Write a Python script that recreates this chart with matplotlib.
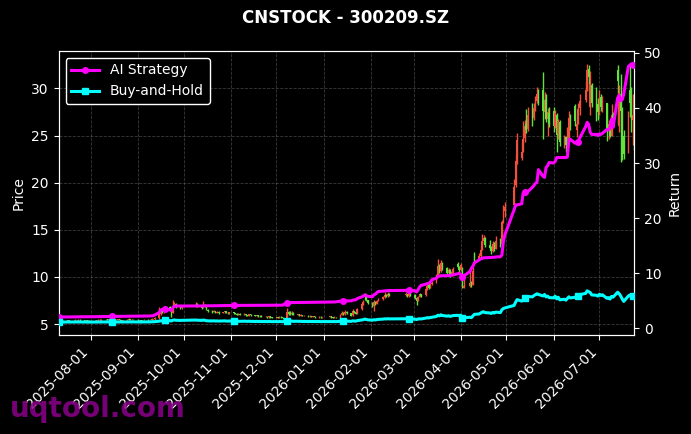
import numpy as np
import pandas as pd
import matplotlib
matplotlib.use("Agg")
import matplotlib.pyplot as plt
import matplotlib.dates as mdates

# ---------------- data ----------------
title = "CNSTOCK - 300209.SZ"
holidays = ["2025-10-01", "2025-10-02", "2025-10-03", "2025-10-06", "2025-10-07", "2025-10-08",
            "2026-01-01", "2026-01-02",
            "2026-02-16", "2026-02-17", "2026-02-18", "2026-02-19", "2026-02-20", "2026-02-23",
            "2026-04-06", "2026-05-01", "2026-05-04", "2026-05-05", "2026-06-19"]
start_date = "2025-07-11"
end_date = "2026-07-24"

open_ = [
    5.27,
    5.30, 5.33, 5.28, 5.34, 5.39,
    5.33, 5.36, 5.43, 5.38, 5.46,
    5.41, 5.36, 5.42, 5.36, 5.29,
    5.33, 5.36, 5.40, 5.45, 5.37,
    5.42, 5.48, 5.42, 5.51, 5.45,
    5.40, 5.44, 5.49, 5.40, 5.35,
    5.39, 5.46, 5.53, 5.47, 5.42,
    5.47, 5.42, 5.38, 5.34, 5.40,
    5.45, 5.40, 5.47, 5.53, 5.48,
    5.62, 6.10, 6.45, 6.28, 6.56,
    6.80, 6.55, 6.22, 6.98, 7.12,
    6.86, 6.68,
    6.85, 7.08,
    6.92, 6.74, 7.03, 6.86, 6.48,
    6.36, 6.28, 6.38, 6.22, 6.30,
    6.18, 6.24, 6.36, 6.20, 6.12,
    6.25, 6.15, 6.07, 6.00, 6.10,
    5.98, 6.04, 5.95, 5.90, 6.02,
    5.92, 5.85, 5.93, 5.80, 5.88,
    5.75, 5.78, 5.70, 5.82, 5.74,
    5.68, 5.72, 5.65, 5.78, 5.70,
    5.66, 6.28, 6.10, 6.04, 6.20,
    5.98, 6.02, 5.90, 5.95, 5.85,
    5.88, 5.80, 5.86, 5.75, 5.82,
    5.72, 5.78, 5.70,
    5.74, 5.80, 5.72, 5.68, 5.76,
    5.70, 5.96, 6.22, 6.04, 6.30,
    6.15, 5.92, 6.36, 6.25, 6.12,
    6.58, 7.12, 8.10, 7.88, 7.55,
    7.18, 6.90, 7.30, 7.15, 7.45,
    7.62, 7.86, 8.12, 7.95, 8.22,
    8.05, 8.15, 7.95, 8.25,
    8.10, 7.80, 7.45, 7.92, 8.15,
    8.05, 8.72, 9.10, 8.85, 9.20,
    9.45, 10.15, 11.30, 10.60, 11.50,
    10.90, 10.40, 10.75, 10.20, 10.55,
    11.40, 11.10, 10.70, 10.90, 8.85,
    9.05, 9.40, 9.15, 12.50,
    11.90, 12.25, 12.95, 13.85, 14.10,
    13.40, 13.10, 12.70, 13.50, 13.00,
    13.80, 13.45, 15.90, 16.95,
    17.60, 19.70, 22.40,
    22.60, 23.30, 24.70, 26.20, 25.70,
    27.30, 26.90, 28.00, 28.70, 29.50,
    29.80, 27.50, 28.90, 26.80, 27.40,
    27.60, 26.00, 27.20, 25.20, 26.40,
    24.30, 24.80, 24.00, 24.40, 27.00,
    28.10, 25.60, 26.30, 27.90,
    28.80, 30.00, 32.10, 28.00, 30.40,
    28.60, 28.30, 27.40, 29.10, 27.90,
    28.40, 25.50, 26.20, 25.00, 27.30,
    32.00, 26.00, 29.40, 27.50, 25.00,
    23.20, 29.80, 28.30, 26.70, 27.30]

high = [
    5.36,
    5.38, 5.36, 5.40, 5.44, 5.42,
    5.41, 5.48, 5.46, 5.52, 5.49,
    5.44, 5.47, 5.45, 5.39, 5.38,
    5.41, 5.46, 5.50, 5.48, 5.48,
    5.55, 5.51, 5.58, 5.54, 5.48,
    5.50, 5.55, 5.52, 5.44, 5.45,
    5.52, 5.60, 5.56, 5.50, 5.52,
    5.50, 5.45, 5.41, 5.46, 5.50,
    5.48, 5.53, 5.60, 5.57, 5.70,
    6.80, 6.65, 6.70, 6.75, 6.95,
    6.90, 6.62, 7.50, 7.35, 7.25,
    7.00, 6.95,
    7.30, 7.20,
    6.98, 7.40, 7.10, 6.90, 6.55,
    6.45, 6.48, 6.42, 6.36, 6.33,
    6.30, 6.42, 6.40, 6.24, 6.30,
    6.28, 6.20, 6.12, 6.18, 6.13,
    6.12, 6.08, 6.00, 6.08, 6.05,
    5.96, 6.00, 5.96, 5.95, 5.91,
    5.84, 5.81, 5.88, 5.85, 5.77,
    5.78, 5.75, 5.84, 5.81, 5.74,
    6.70, 6.40, 6.35, 6.38, 6.24,
    6.10, 6.06, 6.02, 5.98, 5.94,
    5.91, 5.92, 5.89, 5.88, 5.85,
    5.84, 5.81, 5.79,
    5.88, 5.83, 5.75, 5.82, 5.79,
    6.05, 6.40, 6.28, 6.50, 6.36,
    6.18, 6.55, 6.42, 6.30, 6.70,
    7.30, 7.55, 8.30, 7.95, 7.60,
    7.30, 7.50, 7.40, 7.60, 7.75,
    8.00, 8.35, 8.20, 8.40, 8.28,
    8.40, 8.22, 8.38, 8.30,
    8.15, 7.85, 8.00, 8.30, 8.20,
    8.80, 9.20, 9.30, 9.35, 9.60,
    10.30, 11.90, 11.40, 11.80, 11.60,
    11.00, 10.95, 10.85, 10.70, 11.00,
    11.60, 11.20, 11.50, 11.00, 10.20,
    10.70, 9.60, 11.00, 12.60,
    12.50, 13.30, 14.50, 14.40, 14.20,
    13.90, 13.30, 13.80, 13.70, 14.30,
    14.10, 16.00, 17.60, 17.90,
    20.40, 23.00, 25.30,
    24.30, 26.50, 26.60, 27.80, 28.00,
    28.50, 28.40, 29.20, 30.10, 29.90,
    31.70, 29.60, 29.40, 27.90, 28.00,
    28.00, 27.70, 27.40, 26.80, 26.60,
    25.10, 25.00, 25.90, 27.60, 27.30,
    28.30, 26.60, 28.40, 29.40,
    30.80, 32.60, 32.50, 31.80, 30.60,
    30.10, 29.00, 29.80, 29.40, 29.20,
    28.50, 26.60, 26.50, 28.30, 27.50,
    32.50, 30.40, 31.50, 28.00, 25.60,
    27.60, 32.60, 30.10, 29.40, 28.30]

low = [
    5.22,
    5.25, 5.20, 5.26, 5.31, 5.28,
    5.30, 5.34, 5.33, 5.36, 5.35,
    5.31, 5.34, 5.30, 5.24, 5.25,
    5.29, 5.33, 5.37, 5.33, 5.35,
    5.40, 5.38, 5.41, 5.40, 5.36,
    5.38, 5.42, 5.36, 5.31, 5.33,
    5.37, 5.44, 5.42, 5.38, 5.40,
    5.37, 5.33, 5.29, 5.32, 5.38,
    5.36, 5.38, 5.45, 5.43, 5.45,
    5.58, 6.00, 6.20, 6.22, 6.48,
    6.50, 5.72, 6.15, 6.80, 6.75,
    6.60, 6.62,
    6.78, 6.82,
    6.62, 6.70, 6.80, 6.45, 6.28,
    6.20, 6.24, 6.15, 6.18, 6.10,
    6.14, 6.20, 6.15, 6.05, 6.08,
    6.10, 6.02, 5.94, 5.96, 5.92,
    5.94, 5.90, 5.84, 5.87, 5.88,
    5.80, 5.82, 5.75, 5.77, 5.70,
    5.71, 5.64, 5.67, 5.68, 5.62,
    5.64, 5.59, 5.62, 5.64, 5.58,
    5.62, 6.00, 5.98, 6.00, 5.92,
    5.92, 5.84, 5.86, 5.80, 5.80,
    5.74, 5.77, 5.70, 5.72, 5.66,
    5.69, 5.64, 5.66,
    5.71, 5.66, 5.62, 5.65, 5.64,
    5.66, 5.92, 5.98, 6.00, 6.08,
    5.82, 5.88, 6.18, 6.02, 6.08,
    6.50, 7.05, 7.60, 7.45, 7.10,
    6.80, 6.40, 7.05, 7.10, 7.40,
    7.55, 7.80, 7.85, 7.90, 7.98,
    8.00, 7.85, 7.90, 8.02,
    7.70, 7.00, 7.40, 7.88, 7.90,
    8.00, 8.65, 8.75, 8.80, 9.10,
    9.40, 10.05, 10.40, 10.50, 10.70,
    10.20, 10.30, 10.00, 10.10, 10.45,
    10.90, 10.50, 10.60, 8.85, 8.80,
    8.90, 8.95, 9.10, 11.50,
    11.80, 12.15, 12.90, 13.50, 13.20,
    12.90, 12.40, 12.60, 12.80, 12.95,
    13.20, 13.40, 15.70, 16.40,
    17.50, 19.50, 22.00,
    22.40, 23.20, 24.30, 25.30, 25.50,
    26.00, 26.70, 27.60, 28.40, 28.20,
    24.60, 26.80, 26.40, 24.90, 25.90,
    25.40, 25.80, 23.20, 24.60, 23.90,
    23.70, 23.30, 23.90, 24.30, 25.60,
    26.00, 24.80, 26.20, 27.20,
    28.60, 29.70, 29.70, 27.20, 28.00,
    26.50, 26.70, 27.20, 27.60, 27.50,
    24.40, 24.60, 24.80, 24.90, 25.90,
    26.20, 25.40, 22.20, 22.40, 22.50,
    23.10, 27.00, 25.40, 24.00, 23.50]

close = [
    5.30,
    5.32, 5.28, 5.35, 5.38, 5.33,
    5.36, 5.42, 5.39, 5.45, 5.40,
    5.37, 5.41, 5.35, 5.30, 5.33,
    5.36, 5.40, 5.44, 5.38, 5.42,
    5.47, 5.43, 5.50, 5.45, 5.41,
    5.44, 5.48, 5.40, 5.36, 5.39,
    5.45, 5.52, 5.47, 5.43, 5.46,
    5.42, 5.38, 5.35, 5.40, 5.44,
    5.41, 5.47, 5.52, 5.49, 5.63,
    6.05, 6.42, 6.30, 6.55, 6.78,
    6.60, 6.25, 6.95, 7.10, 6.85,
    6.70, 6.82,
    7.05, 6.90,
    6.75, 7.02, 6.88, 6.50, 6.35,
    6.28, 6.40, 6.22, 6.30, 6.18,
    6.25, 6.35, 6.20, 6.12, 6.24,
    6.15, 6.08, 6.00, 6.10, 5.98,
    6.05, 5.95, 5.90, 6.02, 5.92,
    5.85, 5.93, 5.80, 5.88, 5.75,
    5.78, 5.70, 5.82, 5.74, 5.68,
    5.72, 5.65, 5.78, 5.70, 5.66,
    6.25, 6.10, 6.05, 6.20, 5.98,
    6.02, 5.90, 5.95, 5.85, 5.88,
    5.80, 5.86, 5.75, 5.82, 5.72,
    5.78, 5.70, 5.74,
    5.80, 5.72, 5.68, 5.76, 5.70,
    5.95, 6.20, 6.05, 6.30, 6.15,
    5.90, 6.35, 6.25, 6.10, 6.55,
    7.10, 7.35, 7.90, 7.55, 7.20,
    6.95, 7.30, 7.15, 7.45, 7.60,
    7.85, 8.10, 7.95, 8.20, 8.05,
    8.15, 7.95, 8.25, 8.10,
    7.80, 7.45, 7.90, 8.15, 8.00,
    8.70, 9.05, 8.85, 9.20, 9.40,
    10.10, 11.20, 10.60, 11.50, 10.90,
    10.40, 10.75, 10.20, 10.55, 10.85,
    11.10, 10.70, 11.30, 9.20, 9.00,
    9.40, 9.10, 10.60, 11.90,
    12.20, 12.90, 13.80, 14.10, 13.40,
    13.10, 12.70, 13.50, 13.00, 13.80,
    13.40, 15.80, 16.90, 17.40,
    19.50, 22.30, 24.50,
    23.20, 24.60, 26.00, 25.60, 27.20,
    26.80, 27.90, 28.60, 29.40, 28.90,
    27.60, 28.80, 26.80, 27.50, 26.20,
    26.00, 27.40, 25.10, 26.50, 24.30,
    24.80, 24.00, 25.50, 26.90, 25.90,
    26.50, 26.20, 27.80, 28.70,
    29.80, 32.00, 31.20, 30.50, 28.50,
    28.20, 27.50, 29.00, 28.00, 28.60,
    25.50, 26.20, 25.00, 27.20, 26.60,
    30.80, 29.50, 27.60, 25.00, 23.00,
    27.50, 28.40, 26.80, 27.20, 25.80]

ai_strategy = [
    2.05,
    2.05, 2.05, 2.06, 2.07, 2.07,
    2.07, 2.08, 2.08, 2.09, 2.09,
    2.09, 2.10, 2.10, 2.10, 2.11,
    2.11, 2.12, 2.13, 2.13, 2.13,
    2.14, 2.14, 2.15, 2.15, 2.15,
    2.15, 2.16, 2.16, 2.16, 2.17,
    2.18, 2.19, 2.19, 2.19, 2.20,
    2.20, 2.20, 2.20, 2.21, 2.22,
    2.22, 2.24, 2.27, 2.27, 2.40,
    2.85, 3.30, 3.40, 3.50, 3.45,
    3.35, 3.25, 3.75, 4.00, 4.05,
    4.05, 4.05,
    4.06, 4.06,
    4.06, 4.08, 4.08, 4.08, 4.08,
    4.09, 4.10, 4.10, 4.10, 4.11,
    4.12, 4.13, 4.13, 4.13, 4.14,
    4.15, 4.15, 4.15, 4.16, 4.16,
    4.16, 4.16, 4.16, 4.17, 4.17,
    4.17, 4.18, 4.18, 4.18, 4.18,
    4.18, 4.18, 4.19, 4.19, 4.19,
    4.19, 4.20, 4.20, 4.20, 4.20,
    4.65, 4.65, 4.66, 4.68, 4.68,
    4.68, 4.69, 4.70, 4.70, 4.70,
    4.71, 4.72, 4.72, 4.72, 4.73,
    4.74, 4.74, 4.75,
    4.76, 4.77, 4.77, 4.78, 4.80,
    4.95, 4.98, 4.98, 5.00, 5.00,
    4.98, 5.10, 5.15, 5.15, 5.40,
    5.70, 5.85, 6.05, 5.95, 5.80,
    5.75, 6.10, 6.20, 6.50, 6.70,
    6.75, 6.80, 6.80, 6.85, 6.85,
    6.88, 6.88, 6.90, 6.90,
    6.80, 6.60, 7.00, 7.50, 7.80,
    8.00, 8.10, 8.15, 8.40, 8.80,
    9.10, 9.40, 9.50, 9.55, 9.55,
    9.55, 9.60, 9.60, 9.65, 9.70,
    9.90, 10.00, 9.80, 9.40, 9.50,
    10.30, 10.90, 11.30, 11.90,
    12.40, 12.60, 12.70, 12.80, 12.80,
    12.85, 12.85, 12.90, 12.90, 12.95,
    13.00, 13.30, 15.80, 17.00,
    21.50, 22.40, 22.40,
    22.60, 24.60, 24.70, 24.90, 24.80,
    25.60, 25.90, 26.30, 26.50, 28.80,
    27.60, 27.40, 29.20, 29.50, 30.10,
    30.00, 30.30, 31.00, 31.00, 31.00,
    31.00, 31.00, 31.10, 34.30, 34.30,
    33.60, 33.80, 33.90, 34.50,
    36.60, 37.40, 37.00, 35.60, 35.20,
    35.20, 35.00, 35.30, 35.20, 35.40,
    36.10, 36.00, 36.30, 38.00, 36.50,
    41.80, 42.30, 41.30, 41.50, 42.50,
    47.50, 47.80, 48.00, 47.80, 47.40]

buy_and_hold = [
    1.13,
    1.13, 1.12, 1.14, 1.14, 1.13,
    1.14, 1.15, 1.15, 1.16, 1.15,
    1.14, 1.15, 1.14, 1.13, 1.13,
    1.14, 1.15, 1.16, 1.14, 1.15,
    1.16, 1.16, 1.17, 1.16, 1.15,
    1.16, 1.17, 1.15, 1.14, 1.15,
    1.16, 1.17, 1.16, 1.16, 1.16,
    1.15, 1.14, 1.14, 1.15, 1.16,
    1.15, 1.16, 1.17, 1.17, 1.20,
    1.29, 1.37, 1.34, 1.39, 1.44,
    1.40, 1.33, 1.48, 1.51, 1.46,
    1.43, 1.45,
    1.50, 1.47,
    1.44, 1.49, 1.46, 1.38, 1.35,
    1.34, 1.36, 1.32, 1.34, 1.31,
    1.33, 1.35, 1.32, 1.30, 1.33,
    1.31, 1.29, 1.28, 1.30, 1.27,
    1.29, 1.27, 1.26, 1.28, 1.26,
    1.24, 1.26, 1.23, 1.25, 1.22,
    1.23, 1.21, 1.24, 1.22, 1.21,
    1.22, 1.20, 1.23, 1.21, 1.20,
    1.33, 1.30, 1.29, 1.32, 1.27,
    1.28, 1.26, 1.27, 1.24, 1.25,
    1.23, 1.25, 1.22, 1.24, 1.22,
    1.23, 1.21, 1.22,
    1.23, 1.22, 1.21, 1.23, 1.21,
    1.27, 1.32, 1.29, 1.34, 1.31,
    1.26, 1.35, 1.33, 1.30, 1.39,
    1.51, 1.56, 1.68, 1.61, 1.53,
    1.48, 1.55, 1.52, 1.59, 1.62,
    1.67, 1.72, 1.69, 1.74, 1.71,
    1.73, 1.69, 1.76, 1.72,
    1.66, 1.59, 1.68, 1.73, 1.70,
    1.85, 1.93, 1.88, 1.96, 2.00,
    2.15, 2.38, 2.26, 2.45, 2.32,
    2.21, 2.29, 2.17, 2.24, 2.31,
    2.36, 2.28, 2.40, 1.96, 1.91,
    2.00, 1.94, 2.26, 2.53,
    2.60, 2.74, 2.94, 3.00, 2.85,
    2.79, 2.70, 2.87, 2.77, 2.94,
    2.85, 3.36, 3.60, 3.70,
    4.15, 4.74, 5.21,
    4.94, 5.23, 5.53, 5.45, 5.79,
    5.70, 5.94, 6.09, 6.26, 6.15,
    5.87, 6.13, 5.70, 5.85, 5.57,
    5.53, 5.83, 5.34, 5.64, 5.17,
    5.28, 5.11, 5.43, 5.72, 5.51,
    5.64, 5.57, 5.91, 6.11,
    6.34, 6.81, 6.64, 6.49, 6.06,
    6.00, 5.85, 6.17, 5.96, 6.09,
    5.43, 5.57, 5.32, 5.79, 5.66,
    6.55, 6.28, 5.87, 5.32, 4.89,
    5.85, 6.04, 5.70, 5.79, 5.49]

up_color = "#f0503c"
down_color = "#62e23c"

# ---------------- build ----------------
dates = pd.bdate_range(start_date, end_date)
dates = dates[~dates.isin(pd.to_datetime(holidays))]
n = len(dates)
lens = [len(open_), len(high), len(low), len(close), len(ai_strategy), len(buy_and_hold)]
if any(k != n for k in lens):
    raise SystemExit(f"length mismatch: dates={n}, arrays={lens}")

o = np.array(open_)
h = np.array(high)
l = np.array(low)
c = np.array(close)
x = mdates.date2num(dates)
colors = np.where(c >= o, up_color, down_color)

plt.style.use("dark_background")
fig = plt.figure(figsize=(6.91, 4.34), dpi=100, facecolor="black")
ax = fig.add_axes([0.0848, 0.228, 0.8333, 0.6545])
ax.set_facecolor("black")

ax.vlines(x, l, h, colors=colors, linewidth=1.0, zorder=2)
body_bottom = np.minimum(o, c)
body_h = np.maximum(np.abs(c - o), 0.02)
ax.bar(x, body_h, bottom=body_bottom, width=1.0, color=colors, linewidth=0, zorder=3)

ax.set_xlim(x[0], x[-1])
ax.set_ylabel("Price", fontsize=10, color="white")
ax.grid(True, linestyle="--", color="gray", alpha=0.45, linewidth=0.6)
ax.xaxis.set_major_locator(mdates.MonthLocator(bymonthday=1))
ax.xaxis.set_major_formatter(mdates.DateFormatter("%Y-%m-%d"))
plt.setp(ax.get_xticklabels(), rotation=45, ha="right", fontsize=10)
ax.tick_params(axis="y", labelsize=10)

ax2 = ax.twinx()
ax2.plot(x, ai_strategy, color="magenta", linewidth=2.2, marker="o", markersize=4,
         markevery=25, label="AI Strategy", zorder=5)
ax2.plot(x, buy_and_hold, color="cyan", linewidth=2.2, marker="s", markersize=4,
         markevery=25, label="Buy-and-Hold", zorder=5)
ax2.set_ylabel("Return", fontsize=10, color="white")
ax2.tick_params(axis="y", labelsize=10)
ax2.set_xlim(x[0], x[-1])

for a in (ax, ax2):
    for s in a.spines.values():
        s.set_color("white")

leg = ax2.legend(loc="upper left", fontsize=10, facecolor="black", edgecolor="white",
                 framealpha=1.0)
for t in leg.get_texts():
    t.set_color("white")

fig.suptitle(title, fontsize=12, fontweight="bold", color="white", y=0.9585, va="center")
fig.text(0.0145, 0.039, "uqtool.com", fontsize=20, fontweight="bold", color="#8c008c",
         alpha=0.85, ha="left", va="baseline", zorder=10)

fig.savefig("out.png", dpi=100, facecolor="black")
